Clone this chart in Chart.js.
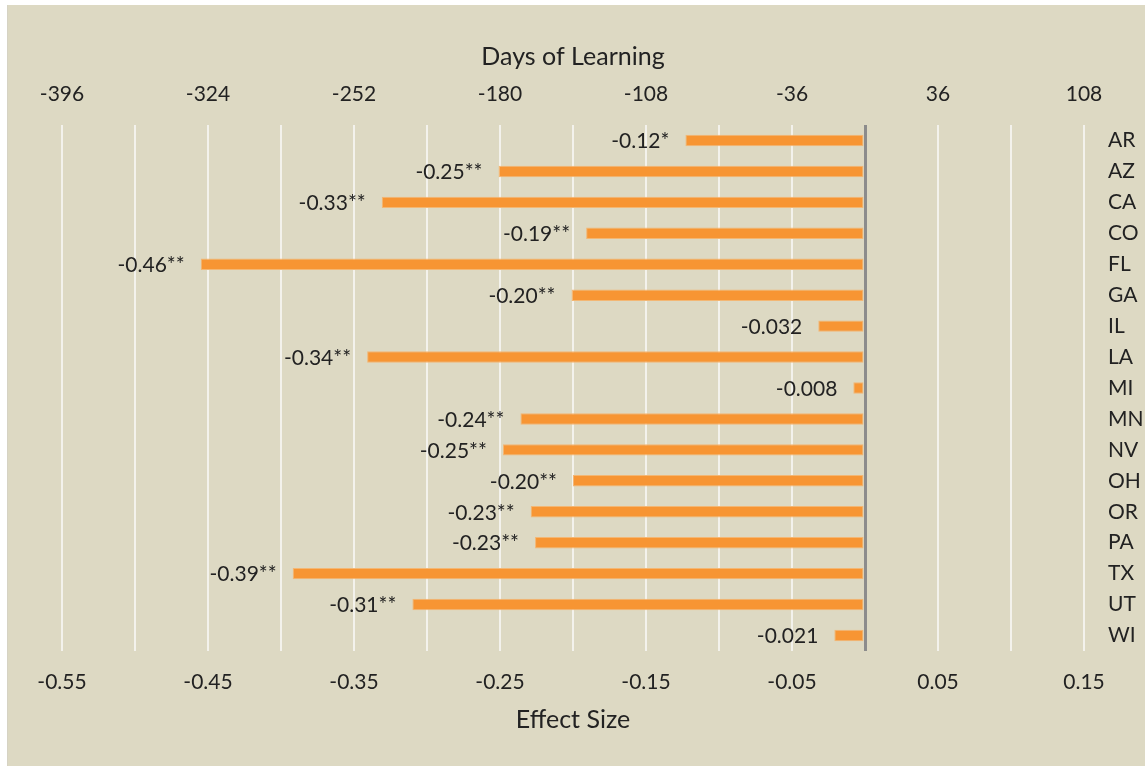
<!DOCTYPE html>
<html>
<head>
<meta charset="utf-8">
<script src="https://cdn.jsdelivr.net/npm/chart.js@4"></script>
<style>
  html, body { margin: 0; padding: 0; background: #fff; }
  #panel { position: absolute; left: 7px; top: 5px; width: 1138px; height: 761px; background: #DDD9C3; }
  #panel::before { content: ''; position: absolute; left: 0; top: 0; width: 1px; height: 100%; background: #d6d3c4; }
  canvas { display: block; }
</style>
</head>
<body>
<div id="panel"><canvas id="effectChart" width="1138" height="761"></canvas></div>
<script>
// donnees
const states = ['AR', 'AZ', 'CA', 'CO', 'FL', 'GA', 'IL', 'LA', 'MI', 'MN', 'NV', 'OH', 'OR', 'PA', 'TX', 'UT', 'WI'];
const effectSizes = [-0.123, -0.251, -0.331, -0.191, -0.455, -0.201, -0.032, -0.341, -0.008, -0.236, -0.248, -0.200, -0.229, -0.226, -0.392, -0.310, -0.021];
const valueLabels = ['-0.12*', '-0.25**', '-0.33**', '-0.19**', '-0.46**', '-0.20**', '-0.032', '-0.34**', '-0.008', '-0.24**', '-0.25**', '-0.20**', '-0.23**', '-0.23**', '-0.39**', '-0.31**', '-0.021'];
const effectTicks = [-0.55, -0.45, -0.35, -0.25, -0.15, -0.05, 0.05, 0.15];
const dayTicks = [-396, -324, -252, -180, -108, -36, 36, 108];

Chart.defaults.font.family = 'Lato';
Chart.defaults.font.size = 21;
Chart.defaults.color = '#222';

// etiquettes a gauche des barres
const barLabels = {
  id: 'barLabels',
  afterDatasetsDraw(chart) {
    const ctx = chart.ctx;
    const meta = chart.getDatasetMeta(0);
    ctx.save();
    ctx.font = '21px Lato';
    ctx.fillStyle = '#222';
    ctx.textAlign = 'right';
    ctx.textBaseline = 'middle';
    meta.data.forEach((bar, i) => ctx.fillText(valueLabels[i], bar.x - 16, bar.y + 1));
    ctx.restore();
  }
};

const isZero = v => Math.abs(v) < 1e-9;

const effectChart = new Chart(document.getElementById('effectChart'), {
  type: 'bar',
  data: {
    labels: states,
    datasets: [{
      label: 'Effect Size',
      data: effectSizes,
      backgroundColor: '#F79533',
      borderColor: '#F3B774',
      borderWidth: 1,
      borderSkipped: false,
      categoryPercentage: 1,
      barPercentage: 0.37,
    }]
  },
  options: {
    indexAxis: 'y',
    responsive: false,
    animation: false,
    layout: { padding: { left: 55, right: 0, top: 0, bottom: 0 } },
    plugins: { legend: { display: false }, tooltip: { enabled: false } },
    scales: {
      x: {
        position: 'bottom',
        min: -0.55,
        max: 0.15,
        border: { display: false },
        grid: {
          drawTicks: false,
          color: c => isZero(c.tick.value) ? '#8c8c8c' : '#f3f2ec',
          lineWidth: c => isZero(c.tick.value) ? 3 : 2,
        },
        ticks: {
          stepSize: 0.05,
          padding: 19,
          autoSkip: false,
          maxRotation: 0,
          callback: v => effectTicks.some(t => Math.abs(t - v) < 1e-6) ? v.toFixed(2) : '',
        },
        title: { display: true, text: 'Effect Size', font: { size: 25 }, padding: { top: 0, bottom: 31 } },
        afterFit: s => { s.height = 115; },
      },
      x2: {
        type: 'linear',
        position: 'top',
        min: -396,
        max: 108,
        border: { display: false },
        grid: { display: false, drawTicks: false },
        ticks: { padding: 18, maxRotation: 0, autoSkip: false },
        afterBuildTicks: s => { s.ticks = dayTicks.map(v => ({ value: v })); },
        title: { display: true, text: 'Days of Learning', font: { size: 25 }, padding: { top: 37, bottom: 0 } },
        afterFit: s => { s.height = 120; },
      },
      y: {
        position: 'right',
        border: { display: false },
        grid: { display: false, drawTicks: false },
        ticks: { padding: 24, autoSkip: false },
        afterFit: s => { s.width = 61; },
      }
    }
  },
  plugins: [barLabels]
});
</script>
</body>
</html>
